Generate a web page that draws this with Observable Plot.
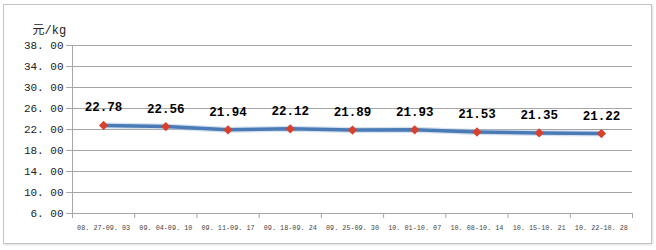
<!DOCTYPE html>
<html><head><meta charset="utf-8">
<script src="https://cdn.jsdelivr.net/npm/d3@7"></script>
<script src="https://cdn.jsdelivr.net/npm/@observablehq/plot@0.6"></script>
<style>
body{margin:0;background:#fff;}
#wrap{position:relative;width:656px;height:250px;}
#border{position:absolute;left:3px;top:4px;width:647px;height:238px;border:1px solid #c4c4c4;box-shadow:1px 1px 2px #ddd;pointer-events:none;}
</style>
</head><body>
<div id="wrap"><div id="border"></div></div>
<script>
const categories = ["08. 27-09. 03","09. 04-09. 10","09. 11-09. 17","09. 18-09. 24","09. 25-09. 30","10. 01-10. 07","10. 08-10. 14","10. 15-10. 21","10. 22-10. 28"];
const values = [22.78, 22.56, 21.94, 22.12, 21.89, 21.93, 21.53, 21.35, 21.22];
const yTicks = [6, 10, 14, 18, 22, 26, 30, 34, 38];
const unit = "元/kg";

const data = categories.map((c, i) => ({c, i: i + 0.5, v: values[i]}));
const mono = "'Liberation Mono', 'DejaVu Sans Mono', 'Noto Sans CJK SC', monospace";

const chart = Plot.plot({
  width: 656, height: 250,
  marginLeft: 72, marginRight: 24, marginTop: 45, marginBottom: 37,
  style: {fontFamily: mono, background: "transparent", overflow: "visible"},
  x: {type: "linear", domain: [0, categories.length]},
  y: {domain: [6, 38]},
  marks: [
    Plot.gridY(yTicks, {stroke: "#a6a6a6", strokeOpacity: 1}),
    Plot.ruleX([0], {stroke: "#a6a6a6"}),
    Plot.ruleY([6], {stroke: "#a6a6a6"}),
    Plot.axisY({ticks: yTicks, tickFormat: d => d.toFixed(2).replace(".", ". "), tickSize: 6, tickPadding: 3, stroke: "#a6a6a6", fill: "#222", fontSize: 11, label: null}),
    Plot.axisX({ticks: d3.range(0, categories.length + 1), tickFormat: null, text: null, tickSize: 5, stroke: "#a6a6a6", label: null}),
    Plot.axisX({ticks: data.map(d => d.i), tickFormat: (d) => categories[Math.floor(d)], tickSize: 0, tickPadding: 12, fontSize: 6.8, fill: "#444", label: null}),
    Plot.line(data, {x: "i", y: "v", stroke: "#b3c8e2", strokeWidth: 6, strokeOpacity: 0.55}),
    Plot.line(data, {x: "i", y: "v", stroke: "#4a7bb6", strokeWidth: 3.5}),
    Plot.dot(data, {x: "i", y: "v", symbol: "diamond2", r: 4.2, fill: "#d8412c", stroke: "none"}),
    Plot.text(data, {x: "i", y: "v", text: d => d.v.toFixed(2), dy: -18, fontSize: 12.5, fontWeight: "bold", fill: "#000"}),
    Plot.text([unit], {frameAnchor: "top-left", dx: -40, dy: -20, textAnchor: "start", fontSize: 12, fill: "#222"})
  ]
});
document.getElementById("wrap").prepend(chart);
chart.style.position = "absolute";
chart.style.left = "0";
chart.style.top = "0";
</script>
</body></html>
